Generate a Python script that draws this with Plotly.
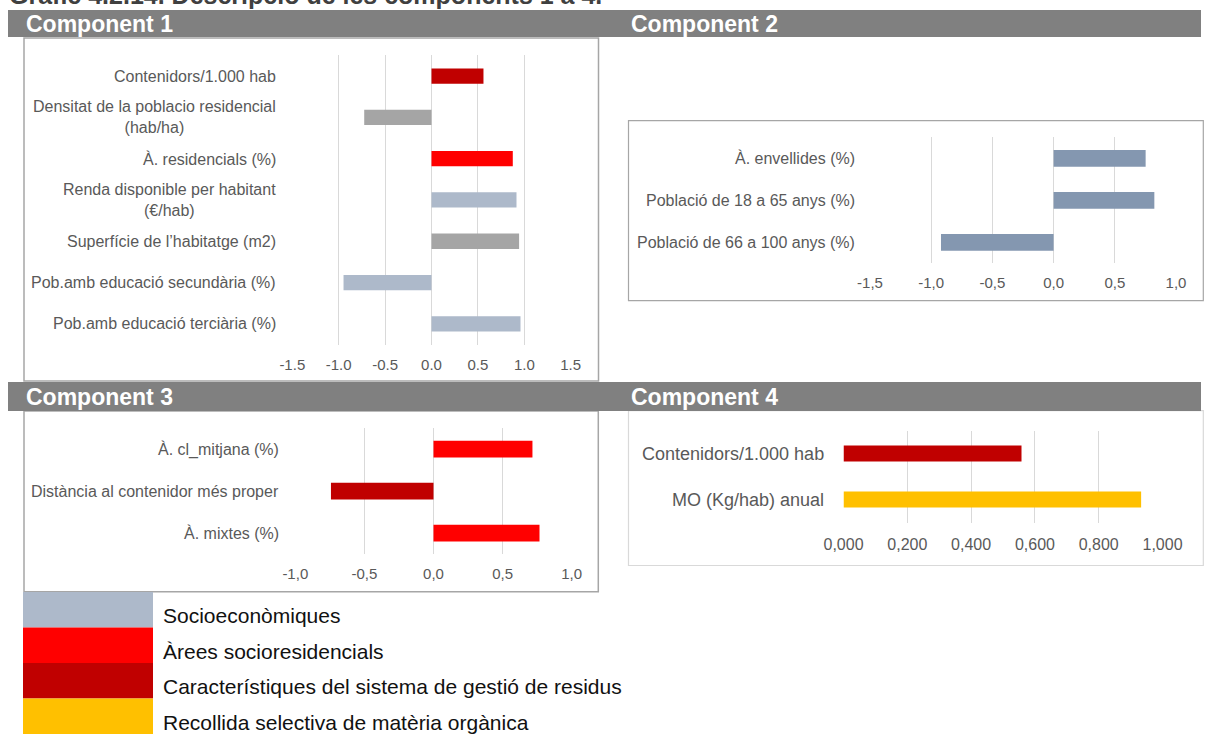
import plotly.graph_objects as go

W, H = 1208, 734

# ---------------- data ----------------
title_text = "Gràfic 4.2.14. Descripció de les components 1 a 4."
panel_titles = ["Component 1", "Component 2", "Component 3", "Component 4"]

SOC = "#ADB9CA"   # Socioeconòmiques
GRY = "#A5A5A5"
BLU = "#8497B0"
RED = "#FF0000"   # Àrees socioresidencials
DRD = "#C00000"   # Característiques del sistema de gestió de residus
GLD = "#FFC000"   # Recollida selectiva de matèria orgànica

c1_labels = [
    "Contenidors/1.000 hab",
    "Densitat de la poblacio residencial<br>(hab/ha)",
    "À. residencials (%)",
    "Renda disponible per habitant<br>(€/hab)",
    "Superfície de l’habitatge (m2)",
    "Pob.amb educació secundària (%)",
    "Pob.amb educació terciària (%)",
]
c1_values = [0.56, -0.725, 0.876, 0.916, 0.944, -0.948, 0.959]
c1_colors = [DRD, GRY, RED, SOC, GRY, SOC, SOC]
c1_ticks = [-1.5, -1.0, -0.5, 0.0, 0.5, 1.0, 1.5]
c1_ticktext = ["-1.5", "-1.0", "-0.5", "0.0", "0.5", "1.0", "1.5"]

c2_labels = ["À. envellides (%)", "Població de 18 a 65 anys (%)", "Població de 66 a 100 anys (%)"]
c2_values = [0.752, 0.823, -0.92]
c2_colors = [BLU, BLU, BLU]
c2_ticks = [-1.5, -1.0, -0.5, 0.0, 0.5, 1.0]
c2_ticktext = ["-1,5", "-1,0", "-0,5", "0,0", "0,5", "1,0"]

c3_labels = ["À. cl_mitjana (%)", "Distància al contenidor més proper", "À. mixtes (%)"]
c3_values = [0.716, -0.742, 0.767]
c3_colors = [RED, DRD, RED]
c3_ticks = [-1.0, -0.5, 0.0, 0.5, 1.0]
c3_ticktext = ["-1,0", "-0,5", "0,0", "0,5", "1,0"]

c4_labels = ["Contenidors/1.000 hab", "MO (Kg/hab) anual"]
c4_values = [0.558, 0.933]
c4_colors = [DRD, GLD]
c4_ticks = [0.0, 0.2, 0.4, 0.6, 0.8, 1.0]
c4_ticktext = ["0,000", "0,200", "0,400", "0,600", "0,800", "1,000"]

legend_labels = [
    "Socioeconòmiques",
    "Àrees socioresidencials",
    "Característiques del sistema de gestió de residus",
    "Recollida selectiva de matèria orgànica",
]
legend_colors = [SOC, RED, DRD, GLD]

# ---------------- layout helpers ----------------
FONT = "Liberation Sans, Arial, sans-serif"


def fx(px):
    return px / W


def fy(py):
    return 1 - py / H


panels = [
    dict(labels=c1_labels, values=c1_values, colors=c1_colors, rng=[-1.5, 1.5],
         ticks=c1_ticks, ticktext=c1_ticktext, x0=292.3, x1=570.7, y0=55.4, y1=344.5,
         lab_right=278, lab_size=16, tick_size=15, ticklen=6, bw=0.37),
    dict(labels=c2_labels, values=c2_values, colors=c2_colors, rng=[-1.5, 1.0],
         ticks=c2_ticks, ticktext=c2_ticktext, x0=870, x1=1176, y0=137.3, y1=263.3,
         lab_right=857, lab_size=16, tick_size=15, ticklen=6, bw=0.40),
    dict(labels=c3_labels, values=c3_values, colors=c3_colors, rng=[-1.0, 1.0],
         ticks=c3_ticks, ticktext=c3_ticktext, x0=295.3, x1=571.7, y0=428.2, y1=554,
         lab_right=281, lab_size=16, tick_size=15, ticklen=6, bw=0.40),
    dict(labels=c4_labels, values=c4_values, colors=c4_colors, rng=[0.0, 1.0],
         ticks=c4_ticks, ticktext=c4_ticktext, x0=843.5, x1=1162.5, y0=430.5, y1=522.5,
         lab_right=826, lab_size=18, tick_size=16, ticklen=7.5, bw=0.35),
]

fig = go.Figure()
annotations = []
shapes = []
layout_axes = {}

for i, p in enumerate(panels, start=1):
    sfx = "" if i == 1 else str(i)
    xa, ya = "x" + sfx, "y" + sfx
    fig.add_trace(go.Bar(
        x=p["values"], y=p["labels"], orientation="h",
        marker=dict(color=p["colors"], line=dict(width=0)),
        width=p["bw"], xaxis=xa, yaxis=ya, hoverinfo="skip", showlegend=False,
    ))
    n = len(p["labels"])
    layout_axes["xaxis" + sfx] = dict(
        domain=[fx(p["x0"]), fx(p["x1"])], range=p["rng"], anchor=ya,
        tickmode="array", tickvals=p["ticks"], ticktext=p["ticktext"],
        showgrid=True, gridcolor="#D9D9D9", gridwidth=1,
        zeroline=False, showline=False, automargin=False,
        ticks="outside", ticklen=p["ticklen"], tickcolor="rgba(0,0,0,0)",
        tickfont=dict(family=FONT, size=p["tick_size"], color="#595959"),
        fixedrange=True,
    )
    layout_axes["yaxis" + sfx] = dict(
        domain=[fy(p["y1"]), fy(p["y0"])], anchor=xa, type="category",
        categoryorder="array", categoryarray=p["labels"],
        range=[n - 0.5, -0.5], showticklabels=False, showgrid=False,
        zeroline=False, showline=False, ticks="", fixedrange=True, automargin=False,
    )
    for lab in p["labels"]:
        annotations.append(dict(
            x=fx(p["lab_right"]), xref="paper", y=lab, yref=ya,
            text=lab, showarrow=False, xanchor="right", yanchor="middle",
            align="center", font=dict(family=FONT, size=p["lab_size"], color="#595959"),
        ))

# panel frames
frames = [
    (24, 38, 598.5, 381, "#A6A6A6", 1.5),
    (628.5, 120.7, 1203.3, 300.7, "#A6A6A6", 1.2),
    (24, 411, 598.3, 591.7, "#A6A6A6", 1.5),
    (628.5, 410.7, 1203.3, 565.5, "#D9D9D9", 1.2),
]
for x0, y0, x1, y1, col, lw in frames:
    shapes.append(dict(type="rect", xref="paper", yref="paper",
                       x0=fx(x0), x1=fx(x1), y0=fy(y1), y1=fy(y0),
                       line=dict(color=col, width=lw), fillcolor="rgba(0,0,0,0)", layer="below"))

# header bars
for y0, y1 in [(10, 37), (382, 411)]:
    shapes.append(dict(type="rect", xref="paper", yref="paper",
                       x0=fx(8), x1=fx(1201), y0=fy(y1), y1=fy(y0),
                       line=dict(width=0), fillcolor="#808080", layer="below"))

header_pos = [(24, 23.5), (629, 23.5), (24, 396.5), (629, 396.5)]
for (hx, hy), t in zip(header_pos, panel_titles):
    annotations.append(dict(
        x=fx(hx), y=fy(hy), xref="paper", yref="paper", text="<b>" + t + "</b>",
        showarrow=False, xanchor="left", yanchor="middle",
        font=dict(family=FONT, size=23, color="#FFFFFF"),
    ))

# title (cut at top edge as in the reference)
annotations.append(dict(
    x=fx(7), y=fy(11), xref="paper", yref="paper", text="<b>" + title_text + "</b>",
    showarrow=False, xanchor="left", yanchor="bottom",
    font=dict(family=FONT, size=25, color="#404040"),
))

# legend blocks
leg_edges = [592, 627.5, 663, 698.5, 734]
for k, (lab, col) in enumerate(zip(legend_labels, legend_colors)):
    y0, y1 = leg_edges[k], leg_edges[k + 1]
    shapes.append(dict(type="rect", xref="paper", yref="paper",
                       x0=fx(23), x1=fx(153), y0=fy(y1), y1=fy(y0),
                       line=dict(width=0), fillcolor=col, layer="below"))
    annotations.append(dict(
        x=fx(161), y=fy((y0 + y1) / 2 + 6), xref="paper", yref="paper", text=lab,
        showarrow=False, xanchor="left", yanchor="middle",
        font=dict(family=FONT, size=21, color="#111111"),
    ))

fig.update_layout(
    width=W, height=H, autosize=False,
    margin=dict(l=0, r=0, t=0, b=0, pad=0, autoexpand=False),
    paper_bgcolor="white", plot_bgcolor="white",
    font=dict(family=FONT),
    annotations=annotations, shapes=shapes,
    showlegend=False,
    **layout_axes,
)

fig.write_html("out.html",
               config={"displayModeBar": False},
               post_script="document.body.style.margin='0';document.body.style.overflow='hidden';")
